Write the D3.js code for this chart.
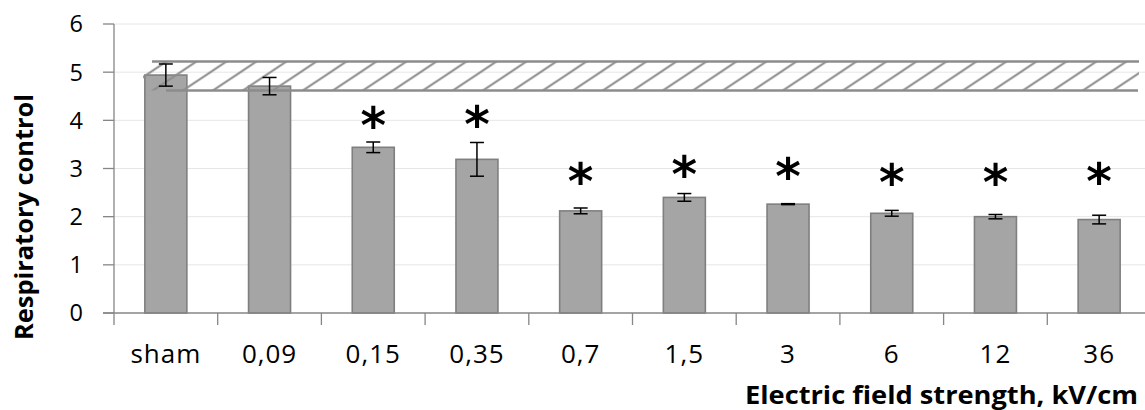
<!DOCTYPE html>
<html>
<head>
<meta charset="utf-8">
<script src="https://cdn.jsdelivr.net/npm/d3@7"></script>
<style>
  html, body { margin: 0; padding: 0; background: #fff; }
  svg { display: block; }
</style>
</head>
<body>
<script>
// ---- data ----
const categories = ["sham", "0,09", "0,15", "0,35", "0,7", "1,5", "3", "6", "12", "36"];
const means      = [4.94, 4.71, 3.44, 3.19, 2.12, 2.40, 2.26, 2.07, 2.00, 1.94];
const errors     = [0.23, 0.18, 0.11, 0.35, 0.06, 0.08, 0.01, 0.06, 0.045, 0.09];
const starLevels = [null, null, 4.06, 4.08, 2.88, 3.04, 2.99, 2.87, 2.87, 2.88];
const normRange  = [4.62, 5.22];
const yTicks     = [0, 1, 2, 3, 4, 5, 6];
const yTitle = "Respiratory control";
const xTitle = "Electric field strength, kV/cm";

// ---- layout ----
const W = 1145, H = 410;
const plotLeft = 114, plotRight = 1151, plotTop = 24, plotBottom = 313;

const svg = d3.select("body").append("svg").attr("width", W).attr("height", H);

const x = d3.scaleBand().domain(categories).range([plotLeft, plotRight])
  .paddingInner(0.595).paddingOuter(0.2975);
const y = d3.scaleLinear().domain([0, 6]).range([plotBottom, plotTop]);

// gridlines
svg.append("g").selectAll("line").data(yTicks.filter(d => d > 0)).join("line")
  .attr("x1", plotLeft).attr("x2", plotRight)
  .attr("y1", d => y(d)).attr("y2", d => y(d))
  .attr("stroke", "#e6e6e6").attr("stroke-width", 1);

// bars
svg.append("g").selectAll("rect").data(categories).join("rect")
  .attr("x", d => x(d)).attr("width", x.bandwidth())
  .attr("y", (d, i) => y(means[i])).attr("height", (d, i) => y(0) - y(means[i]))
  .attr("fill", "#a5a5a5").attr("stroke", "#7f7f7f").attr("stroke-width", 1.6);

// normal-range hatched band
const defs = svg.append("defs");
const pat = defs.append("pattern").attr("id", "hatch")
  .attr("patternUnits", "userSpaceOnUse").attr("width", 30).attr("height", 20)
  .attr("x", 3).attr("y", y(normRange[0]));
[0, 1, 2].forEach(n => {
  pat.append("line")
    .attr("x1", -30).attr("y1", 20 * n + 20)
    .attr("x2", 60).attr("y2", 20 * n - 40)
    .attr("stroke", "#8c8c8c").attr("stroke-width", 2);
});
const bandX0 = 143, bandX1 = 1139;
svg.append("rect")
  .attr("x", bandX0).attr("width", bandX1 - bandX0)
  .attr("y", y(normRange[1])).attr("height", y(normRange[0]) - y(normRange[1]))
  .attr("fill", "url(#hatch)");
svg.append("line").attr("x1", 152).attr("x2", bandX1)
  .attr("y1", y(normRange[1])).attr("y2", y(normRange[1]))
  .attr("stroke", "#8c8c8c").attr("stroke-width", 2.4);
svg.append("line").attr("x1", 166).attr("x2", bandX1 - 1)
  .attr("y1", y(normRange[0])).attr("y2", y(normRange[0]))
  .attr("stroke", "#8c8c8c").attr("stroke-width", 2.4);

// error bars
const eb = svg.append("g").attr("stroke", "#000").attr("stroke-width", 1.5);
categories.forEach((c, i) => {
  const cx = x(c) + x.bandwidth() / 2;
  const yt = y(means[i] + errors[i]), yb = y(means[i] - errors[i]);
  eb.append("line").attr("x1", cx).attr("x2", cx).attr("y1", yt).attr("y2", yb);
  eb.append("line").attr("x1", cx - 7).attr("x2", cx + 7).attr("y1", yt).attr("y2", yt);
  eb.append("line").attr("x1", cx - 7).attr("x2", cx + 7).attr("y1", yb).attr("y2", yb);
});

// axes
const axisColor = "#868686";
svg.append("line").attr("x1", plotLeft).attr("x2", plotLeft)
  .attr("y1", plotTop).attr("y2", plotBottom).attr("stroke", axisColor).attr("stroke-width", 1.3);
svg.append("g").selectAll("line").data(yTicks).join("line")
  .attr("x1", plotLeft - 11).attr("x2", plotLeft)
  .attr("y1", d => y(d)).attr("y2", d => y(d))
  .attr("stroke", axisColor).attr("stroke-width", 1.3);
svg.append("line").attr("x1", plotLeft - 11).attr("x2", plotRight)
  .attr("y1", plotBottom).attr("y2", plotBottom).attr("stroke", axisColor).attr("stroke-width", 1.3);
const boundaries = categories.map(c => x(c) - x.step() * x.paddingInner() / 2);
svg.append("g").selectAll("line").data(boundaries).join("line")
  .attr("x1", d => d).attr("x2", d => d)
  .attr("y1", plotBottom).attr("y2", plotBottom + 12)
  .attr("stroke", axisColor).attr("stroke-width", 1.3);

// tick labels
svg.append("g").selectAll("text").data(yTicks).join("text")
  .attr("x", 83).attr("y", d => y(d)).attr("dy", "0.36em")
  .attr("text-anchor", "end")
  .attr("font-family", "Open Sans").attr("font-size", 23.5).attr("fill", "#000")
  .text(d => d);
svg.append("g").selectAll("text").data(categories).join("text")
  .attr("x", d => x(d) + x.bandwidth() / 2).attr("y", 363)
  .attr("text-anchor", "middle")
  .attr("font-family", "Open Sans").attr("font-size", 26).attr("letter-spacing", 1)
  .attr("fill", "#000")
  .text(d => d);

// axis titles
svg.append("text")
  .attr("x", 1138).attr("y", 404).attr("text-anchor", "end")
  .attr("font-family", "Open Sans").attr("font-weight", "bold").attr("font-size", 25.5)
  .attr("textLength", 393).attr("lengthAdjust", "spacingAndGlyphs")
  .text(xTitle);
svg.append("text")
  .attr("transform", "translate(33,217) rotate(-90)").attr("text-anchor", "middle")
  .attr("font-family", "Open Sans").attr("font-weight", "bold").attr("font-size", 25)
  .attr("textLength", 246).attr("lengthAdjust", "spacingAndGlyphs")
  .text(yTitle);

// significance stars
const starFont = "DejaVu Sans";
const ctx = document.createElement("canvas").getContext("2d");
ctx.font = `bold 100px "${starFont}"`;
const m = ctx.measureText("*");
const glyphH = m.actualBoundingBoxAscent + m.actualBoundingBoxDescent;
const starSize = 100 * 23 / glyphH;
const k = starSize / 100;
const midOffset = (m.actualBoundingBoxAscent - m.actualBoundingBoxDescent) / 2 * k;
svg.append("g").selectAll("text").data(categories.filter((c, i) => starLevels[i] != null)).join("text")
  .attr("x", d => x(d) + x.bandwidth() / 2)
  .attr("y", d => y(starLevels[categories.indexOf(d)]) + midOffset)
  .attr("text-anchor", "middle")
  .attr("font-family", starFont).attr("font-weight", "bold")
  .attr("font-size", starSize).attr("fill", "#000")
  .text("*");
</script>
</body>
</html>
